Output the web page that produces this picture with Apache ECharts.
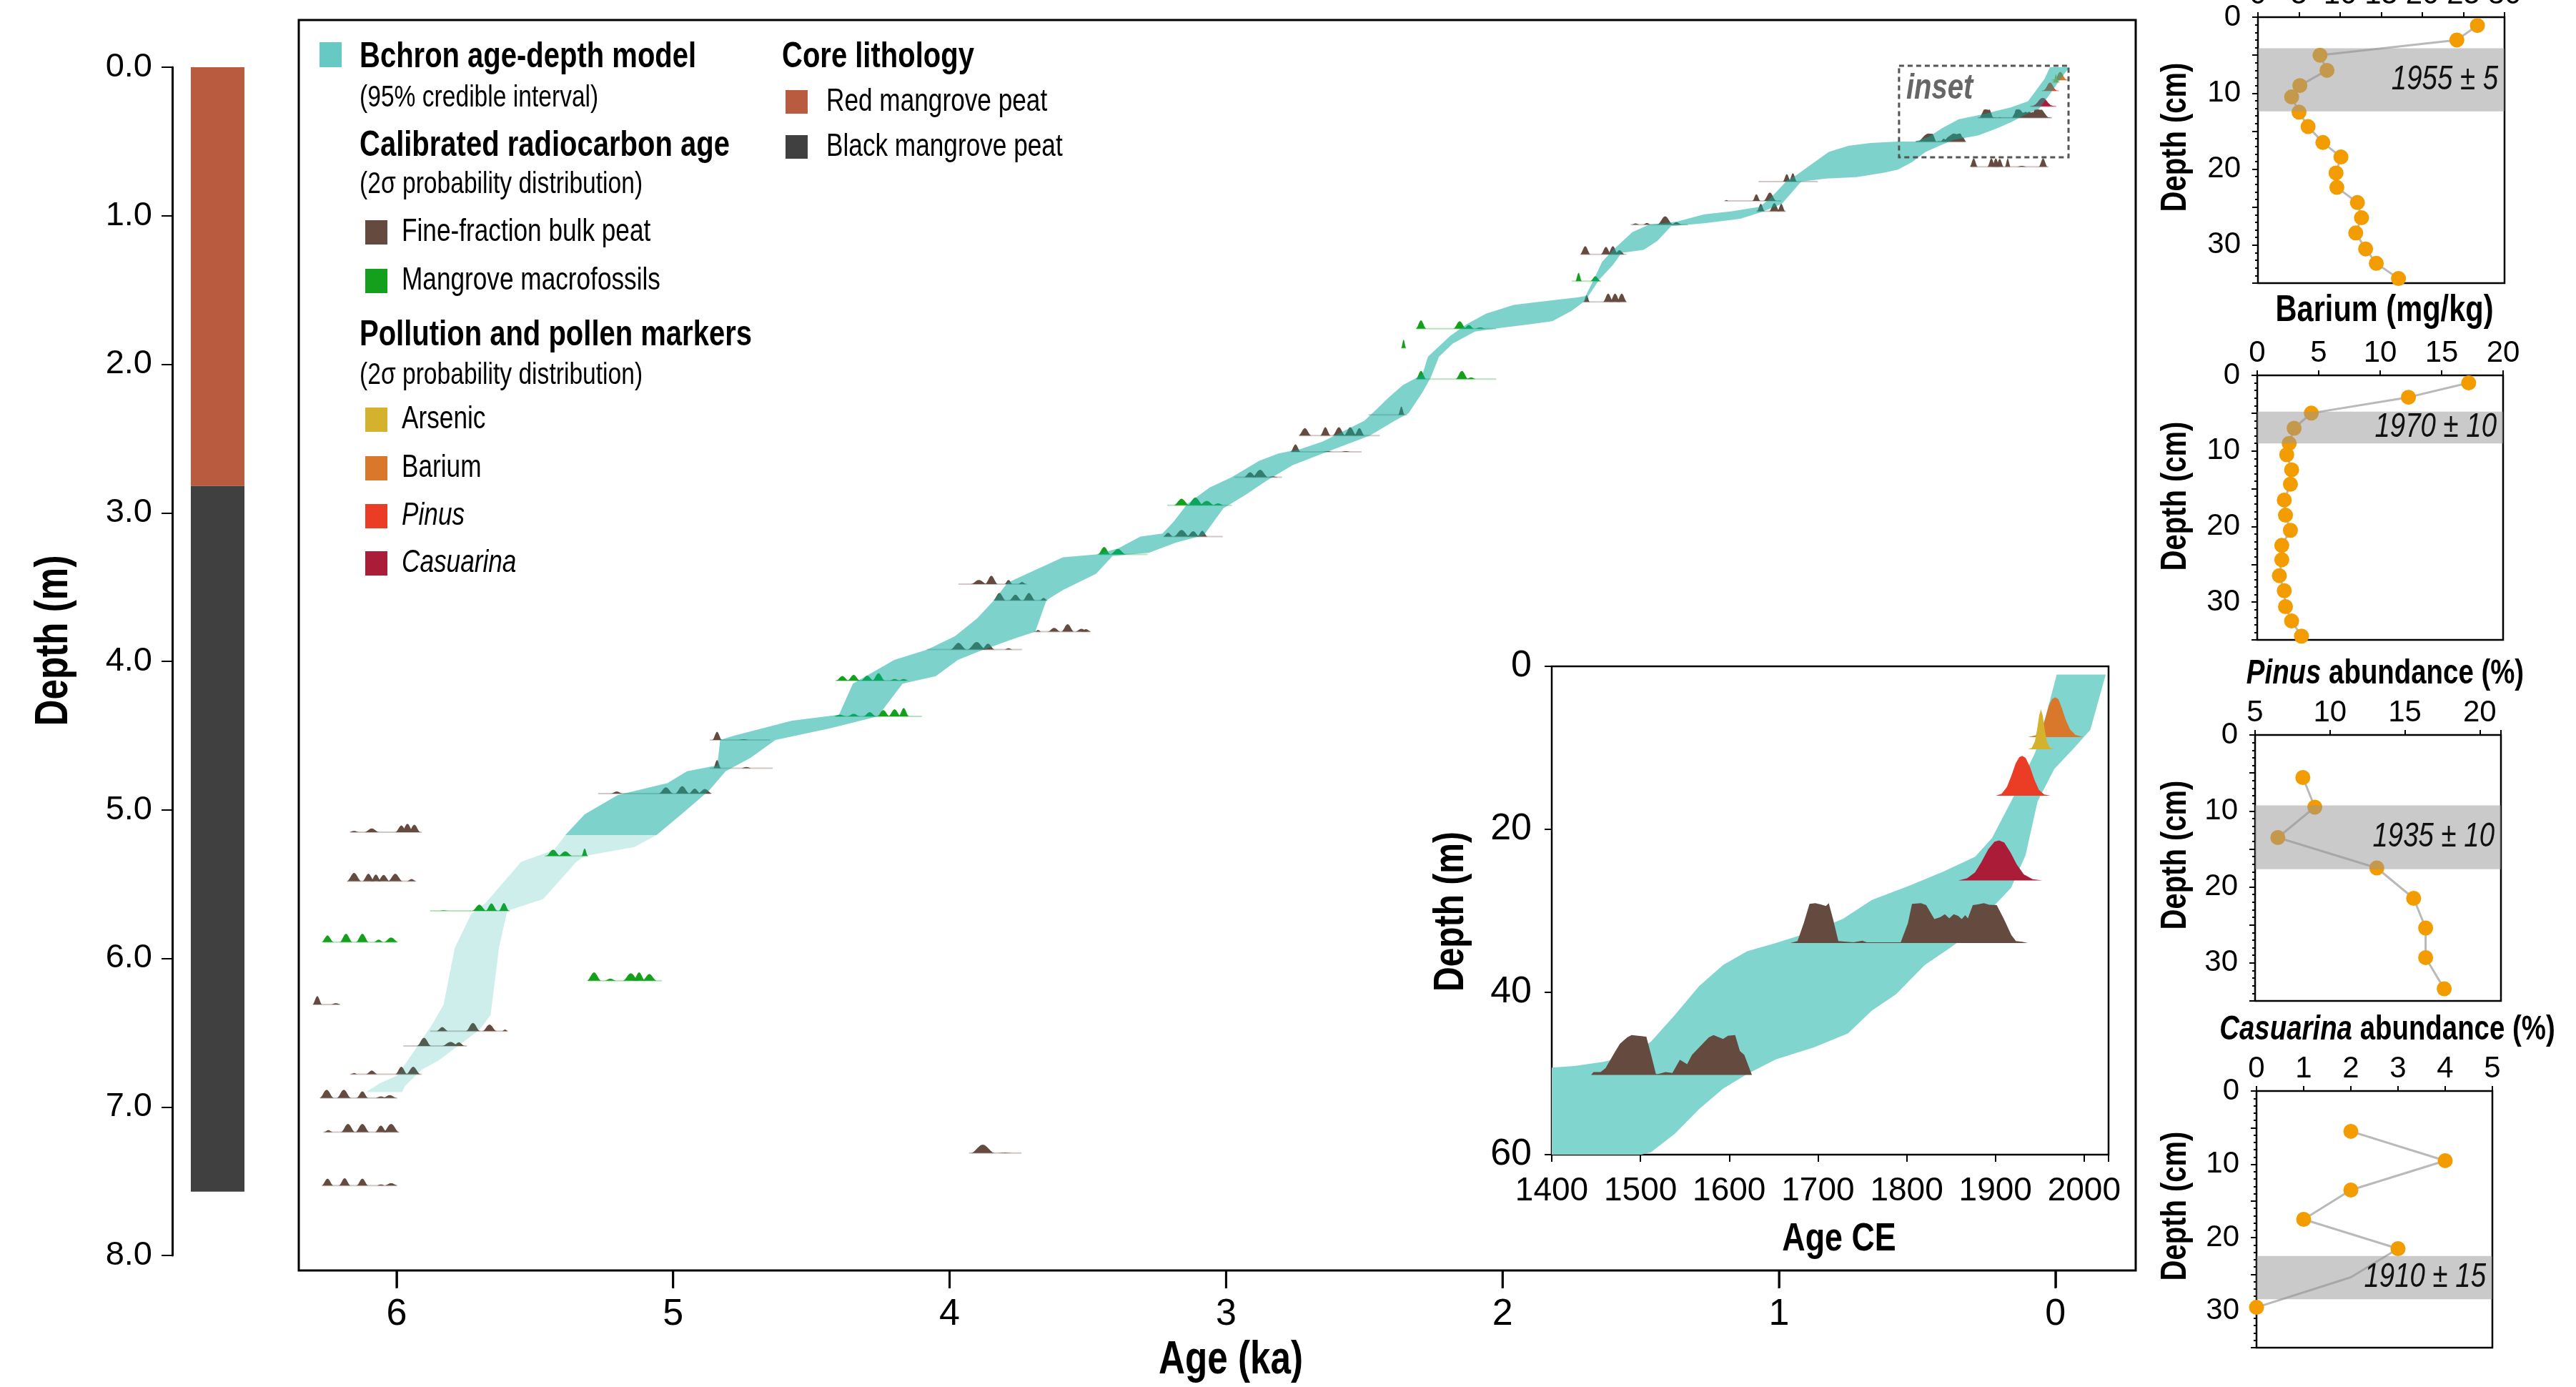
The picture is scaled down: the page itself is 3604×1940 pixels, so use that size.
<!DOCTYPE html>
<html>
<head>
<meta charset="utf-8">
<script src="https://cdn.jsdelivr.net/npm/echarts@6.0.0/dist/echarts.min.js"></script>
<style>
html,body{margin:0;padding:0;background:#ffffff;}
#chart{width:3604px;height:1940px;}
</style>
</head>
<body>
<div id="chart"></div>
<script>
// ================= DATA =================
const ageTicks = [0, 1, 2, 3, 4, 5, 6];

// Core lithology (depth m)
const lithTop = [0, 2.82];
const lithBottom = [2.82, 7.57];
const lithColor = ['#b85b3e', '#404040'];

// Bchron 95% credible band, main panel: [age ka, depth m]
const bandOldDark = [[0.02,0.00],[0.04,0.08],[0.08,0.18],[0.10,0.23],[0.16,0.27],[0.27,0.32],[0.35,0.35],[0.41,0.41],[0.46,0.47],[0.51,0.50],[0.57,0.50],[0.67,0.51],[0.75,0.53],[0.82,0.57],[0.88,0.65],[0.94,0.73],[0.97,0.76],[1.03,0.88],[1.07,0.94],[1.17,0.97],[1.27,0.99],[1.37,1.04],[1.47,1.06],[1.53,1.11],[1.60,1.23],[1.64,1.31],[1.67,1.43],[1.70,1.54],[1.73,1.55],[1.87,1.58],[1.96,1.60],[2.06,1.66],[2.13,1.73],[2.19,1.81],[2.27,1.95],[2.29,2.07],[2.36,2.14],[2.41,2.22],[2.46,2.31],[2.50,2.38],[2.65,2.52],[2.73,2.57],[2.81,2.60],[2.88,2.65],[2.98,2.76],[3.06,2.83],[3.14,2.94],[3.19,3.06],[3.23,3.14],[3.31,3.16],[3.39,3.24],[3.47,3.28],[3.59,3.30],[3.72,3.41],[3.79,3.47],[3.84,3.59],[3.90,3.71],[3.98,3.83],[4.08,3.92],[4.20,3.99],[4.35,4.15],[4.40,4.36],[4.57,4.40],[4.78,4.50],[4.83,4.53],[4.84,4.70],[4.95,4.74],[5.02,4.82],[5.20,4.90],[5.32,5.03],[5.39,5.17]];
const bandYoungDark = [[-0.05,0.00],[-0.01,0.10],[0.02,0.18],[0.06,0.28],[0.11,0.32],[0.16,0.37],[0.21,0.41],[0.28,0.46],[0.37,0.49],[0.42,0.53],[0.47,0.57],[0.52,0.64],[0.57,0.69],[0.62,0.71],[0.72,0.74],[0.83,0.75],[0.92,0.77],[0.99,0.92],[1.07,0.98],[1.14,1.02],[1.27,1.05],[1.39,1.07],[1.44,1.17],[1.49,1.23],[1.57,1.25],[1.60,1.33],[1.65,1.43],[1.70,1.57],[1.75,1.64],[1.82,1.71],[1.90,1.73],[2.03,1.76],[2.10,1.78],[2.18,1.86],[2.23,1.95],[2.26,2.09],[2.29,2.19],[2.34,2.33],[2.39,2.38],[2.48,2.48],[2.65,2.60],[2.76,2.68],[2.85,2.78],[2.93,2.88],[3.01,2.97],[3.08,3.15],[3.18,3.20],[3.28,3.27],[3.41,3.29],[3.47,3.41],[3.59,3.52],[3.65,3.59],[3.69,3.80],[3.77,3.85],[3.89,3.93],[3.97,3.99],[4.05,4.10],[4.17,4.15],[4.26,4.37],[4.43,4.45],[4.63,4.53],[4.72,4.65],[4.81,4.74],[4.87,4.87],[4.97,5.03],[5.06,5.17]];
const bandOldLight = [[5.39,5.17],[5.43,5.27],[5.55,5.35],[5.61,5.48],[5.68,5.63],[5.73,5.70],[5.79,5.93],[5.83,6.31],[5.87,6.44],[5.95,6.66],[6.00,6.79],[6.06,6.84],[6.11,6.90]];
const bandYoungLight = [[5.06,5.17],[5.14,5.25],[5.32,5.31],[5.35,5.35],[5.47,5.60],[5.60,5.68],[5.63,5.93],[5.66,6.38],[5.70,6.48],[5.85,6.69],[5.91,6.75],[5.97,6.86],[5.98,6.90]];

// Calibrated radiocarbon ages in the main panel
const calDepth = [5.15,5.48,5.68,5.31,5.89,6.15,6.31,6.49,6.59,6.78,6.94,7.17,7.53,4.53,4.72,4.89,4.37,4.13,3.92,3.80,3.59,3.48,3.28,3.16,2.95,2.76,2.59,2.48,2.34,2.10,1.89,1.76,1.58,1.44,1.26,1.06,0.97,0.90,0.77,0.67,7.31];
const calKind = ['b','b','g','g','g','g','b','b','b','b','b','b','b','b','b','b','g','g','b','b','b','b','g','b','g','b','b','b','b','g','g','g','b','g','b','b','b','b','b','b','b'];
const calRange = [[5.909,6.168],[5.931,6.179],[5.590,5.879],[5.308,5.464],[5.998,6.265],[5.041,5.308],[6.205,6.302],[5.598,5.879],[5.746,5.976],[5.909,6.168],[5.998,6.277],[5.991,6.265],[5.998,6.270],[4.649,4.867],[4.640,4.867],[4.863,5.271],[4.100,4.413],[4.158,4.413],[3.738,4.083],[3.490,3.696],[3.647,3.836],[3.721,3.968],[3.284,3.460],[3.012,3.226],[2.979,3.213],[2.798,2.971],[2.510,2.765],[2.444,2.735],[2.345,2.485],[2.023,2.312],[2.350,2.366],[2.023,2.312],[1.552,1.709],[1.643,1.750],[1.552,1.717],[1.330,1.536],[0.975,1.082],[0.992,1.198],[0.860,1.074],[0.025,0.306],[3.74,3.93]];
// peaks: [age ka, relative density, half width ka]
const calPeaks = [
 [[6.154,.15,.012],[6.090,.45,.018],[5.983,.8,.015],[5.961,1,.015],[5.936,.9,.015]],
 [[6.154,1,.018],[6.102,.9,.015],[6.075,.8,.013],[6.047,.75,.015],[6.005,.9,.018],[5.946,.25,.012]],
 [[5.830,.06,.012],[5.701,.75,.018],[5.657,.9,.015],[5.612,.95,.013]],
 [[5.434,.75,.018],[5.390,.55,.018],[5.320,.9,.008]],
 [[6.250,.8,.015],[6.183,1,.016],[6.124,1,.016],[6.065,.3,.012],[6.020,.55,.018]],
 [[5.286,1,.018],[5.227,.25,.015],[5.153,.9,.02],[5.123,1,.015],[5.086,.8,.018]],
 [[6.287,1,.012],[6.220,.15,.012]],
 [[5.835,.5,.015],[5.724,1,.018],[5.664,.8,.018],[5.608,.2,.008]],
 [[5.901,1,.018],[5.805,.5,.022],[5.775,.45,.015]],
 [[6.154,.15,.009],[6.090,.45,.015],[5.983,.9,.015],[5.940,.9,.018]],
 [[6.253,1,.018],[6.191,1,.018],[6.124,.8,.015],[6.057,.2,.015],[6.025,.35,.018]],
 [[6.247,.25,.012],[6.176,1,.018],[6.124,1,.018],[6.057,.8,.015],[6.020,1,.02]],
 [[6.250,.85,.015],[6.188,.9,.015],[6.124,.85,.015],[6.057,.15,.012],[6.020,.3,.018]],
 [[4.841,1,.012],[4.745,.1,.015]],
 [[4.841,1,.01],[4.735,.15,.015]],
 [[5.204,.25,.015],[5.026,.75,.018],[4.967,.9,.018],[4.922,.6,.015],[4.885,.55,.018]],
 [[4.397,.2,.016],[4.347,.3,.016],[4.289,.5,.016],[4.240,.75,.016],[4.199,.85,.016],[4.166,1,.013]],
 [[4.388,.55,.016],[4.347,.7,.016],[4.298,.6,.016],[4.257,.9,.016],[4.199,.2,.013],[4.166,.2,.013]],
 [[3.968,.8,.02],[3.902,.9,.023],[3.861,.7,.016],[3.787,.15,.01]],
 [[3.680,.2,.008],[3.622,.45,.016],[3.573,.9,.016],[3.523,.35,.016],[3.507,.3,.013]],
 [[3.820,.9,.016],[3.762,.7,.016],[3.713,.9,.016],[3.660,.3,.01]],
 [[3.894,.5,.02],[3.849,1,.016],[3.787,.5,.01],[3.738,.25,.01]],
 [[3.441,.9,.016],[3.391,.65,.02]],
 [[3.210,.45,.013],[3.161,.8,.02],[3.119,.65,.016],[3.086,.7,.013]],
 [[3.161,.8,.02],[3.111,.95,.02],[3.070,.55,.02],[3.029,.25,.016]],
 [[2.913,.6,.016],[2.877,.9,.02],[2.831,.1,.013]],
 [[2.749,.9,.013],[2.633,.1,.013],[2.567,.1,.013]],
 [[2.715,.9,.016],[2.641,1,.013],[2.592,1,.016],[2.551,1,.016],[2.518,.9,.013]],
 [[2.366,1,.008]],
 [[2.295,1,.013],[2.147,1,.016],[2.114,.2,.013]],
 [[2.358,1,.006]],
 [[2.295,1,.013],[2.155,.9,.016],[2.122,.45,.013],[2.081,.15,.013]],
 [[1.696,.8,.008],[1.618,1,.013],[1.593,1,.013],[1.569,1,.013]],
 [[1.725,1,.008],[1.664,.6,.013]],
 [[1.701,1,.013],[1.626,.9,.013],[1.601,1,.013],[1.577,.5,.013]],
 [[1.519,.15,.01],[1.478,.2,.01],[1.412,1,.02],[1.371,.3,.013]],
 [[1.066,.9,.01],[1.017,1,.013],[0.992,.9,.01]],
 [[1.190,.1,.005],[1.082,.8,.01],[1.033,1,.016]],
 [[0.972,.9,.01],[0.950,1,.01]],
 [[0.296,1,.01],[0.232,1,.01],[0.216,1,.01],[0.202,.95,.01],[0.173,1,.007],[0.122,.1,.013],[0.045,1,.011]],
 [[3.88,1,.03],[3.80,.05,.02]]
];

// Inset (upper 60 cm): Bchron band [year CE, depth cm]
const insetOld = [[1969.1,1.0],[1958.3,5.5],[1944.8,10.6],[1917.7,16.6],[1896.1,21.1],[1877.2,23.4],[1842.0,25.2],[1804.1,26.9],[1760.8,28.7],[1728.4,31.0],[1695.9,32.5],[1652.6,34.0],[1620.2,35.0],[1593.1,36.7],[1566.1,39.3],[1539.0,42.8],[1512.0,46.1],[1490.3,47.8],[1457.9,48.6],[1425.4,49.1],[1400,49.3],[1400,60]];
const insetYoung = [[2024.3,1.0],[2007.0,7.8],[1988.1,10.1],[1966.4,12.6],[1947.5,16.6],[1934.0,23.2],[1917.7,27.2],[1896.1,29.7],[1879.9,32.2],[1847.4,34.7],[1820.4,36.7],[1787.9,40.3],[1760.8,42.3],[1733.8,45.1],[1695.9,46.8],[1652.6,48.3],[1620.2,50.1],[1593.1,51.9],[1566.1,54.4],[1539.0,57.4],[1512.0,59.7],[1501.2,60]];
// Inset probability distributions (baseline depth cm, kind, [year CE, relative density])
const insetDepth = [8.7, 10.2, 15.9, 26.3, 34.0, 50.2];
const insetKind = ['ba', 'as', 'pi', 'ca', 'b', 'b'];
const insetShape = [
 [[1936.7,0],[1945,0.04],[1952,0.2],[1956,0.45],[1960,0.78],[1964,0.96],[1967.5,1],[1971,0.95],[1975,0.72],[1979,0.45],[1984,0.2],[1990,0.06],[1998.9,0]],
 [[1936.7,0],[1941,0.04],[1944.5,0.2],[1947,0.5],[1949.3,0.85],[1951.3,1],[1953.3,0.85],[1955.6,0.5],[1958,0.2],[1961.5,0.04],[1966.4,0]],
 [[1900.4,0],[1907,0.05],[1913,0.22],[1918,0.5],[1923,0.82],[1927,0.97],[1930.2,1],[1934,0.95],[1939,0.72],[1944,0.4],[1949,0.15],[1955,0.03],[1962.1,0]],
 [[1858.2,0],[1868,0.05],[1877,0.2],[1884,0.45],[1892,0.78],[1899,0.97],[1904.2,1],[1910,0.95],[1917,0.7],[1924,0.4],[1932,0.15],[1942,0.03],[1952.9,0]],
 [[1668.9,0],[1677,0.05],[1684,0.5],[1690.5,0.98],[1697,1],[1703,0.97],[1709,0.93],[1712.2,1],[1717,0.6],[1723,0.05],[1740,0.02],[1750,0.06],[1755,0.02],[1793.3,0.02],[1801.4,0.5],[1806,0.98],[1816,1],[1822,0.95],[1826,0.8],[1831.2,0.6],[1838,0.65],[1843,0.72],[1848,0.62],[1853,0.72],[1858,0.68],[1862,0.6],[1866,0.7],[1869,0.62],[1874.5,0.95],[1880,0.97],[1887,1],[1893,0.96],[1901.5,0.95],[1909.6,0.6],[1918,0.2],[1923.1,0.05],[1930,0.03],[1936.7,0]],
 [[1444.4,0],[1447,0.07],[1455,0.07],[1460.6,0.17],[1471.4,0.58],[1476.8,0.78],[1485,0.94],[1490,1],[1506.6,0.96],[1512,0.5],[1517.4,0.02],[1520,0.02],[1528.2,0.07],[1536,0.05],[1544.4,0.38],[1552.6,0.27],[1558,0.5],[1566.1,0.69],[1577,0.94],[1582.3,1],[1593.1,0.9],[1598.5,0.98],[1606.7,1],[1612,0.6],[1617,0.5],[1625.6,0]]
];
// Dashed "inset" frame in main panel (age ka, depth m)
const insetFrameAge = [-0.047, 0.566];
const insetFrameDepth = [-0.01, 0.607];

// Right-hand profiles (depth cm)
const asDepth = [1.1,3.0,5.0,7.0,9.0,10.5,12.5,14.4,16.5,18.4,20.5,22.4,24.4,26.4,28.4,30.5,32.4,34.4];
const asValue = [26.7,24.2,7.55,8.4,5.1,4.1,5.0,6.1,7.9,10.1,9.5,9.6,12.1,12.6,11.9,13.1,14.4,17.1];
const asBand = [4.1, 12.4];
const baDepth = [1.0,2.9,5.0,7.0,9.0,10.5,12.5,14.4,16.5,18.5,20.5,22.5,24.4,26.5,28.5,30.6,32.5,34.5];
const baValue = [17.2,12.3,4.4,3.0,2.6,2.4,2.8,2.7,2.2,2.3,2.7,2.0,2.0,1.8,2.2,2.3,2.8,3.6];
const baBand = [4.8, 9.0];
const piDepth = [5.6,9.5,13.5,17.5,21.5,25.4,29.3,33.4];
const piValue = [8.19,8.99,6.52,13.13,15.59,16.39,16.39,17.63];
const piBand = [9.26, 17.67];
const caDepth = [5.5,9.5,13.5,17.5,21.5,25.4,29.5];
const caValue = [2,4,2,1,3,2,0];
const caMarker = [1,1,1,1,1,0,1];
const caBand = [22.5, 28.4];
const bandLabels = ['1955 ± 5', '1970 ± 10', '1935 ± 10', '1910 ± 15'];

// ================= STYLE =================
const FN = "'Liberation Sans',Arial,Roboto,sans-serif";
const SX = 0.8;   // horizontal squeeze to mimic a condensed face
const COL = {b:'#644a3f', g:'#14a01d', as:'#d5b22e', ba:'#d9772b', pi:'#eb3c25', ca:'#ab1c38'};
const MAIN_H = 0.056;   // m per unit density in main panel
const INSET_H = 4.9;    // cm per unit density in inset
const DOT = '#f29c00';

function bell(api, xc, base, h, hw, H) {
  const pts = [];
  for (let k = 0; k <= 12; k++) {
    const t = -1 + k / 6;
    const y = h * (1 + Math.cos(Math.PI * t)) / 2;
    pts.push(api.coord([xc + t * hw * 1.45, base - y * H]));
  }
  return pts;
}

const gridBase = {containLabel: false, outerBoundsMode: 'none'};

function panelX(idx, min, max, opts) {
  return {
    gridIndex: idx, type: 'value', position: 'top', min, max, interval: (opts && opts.interval) || 5,
    axisLine: {show: false, onZero: false}, splitLine: {show: false},
    axisTick: {show: true, length: 7, lineStyle: {color: '#000', width: 2}},
    axisLabel: {fontSize: 42, fontFamily: FN, color: '#000', margin: 10,
      formatter: v => (Math.abs(v - Math.round(v)) < 1e-9 && (opts && opts.labelOk ? opts.labelOk(v) : true)) ? String(v) : ''}
  };
}
function panelY(idx) {
  return {
    gridIndex: idx, type: 'value', min: 0, max: 35, interval: 5, inverse: true,
    axisLine: {show: false, onZero: false}, splitLine: {show: false},
    axisTick: {show: true, length: 8, lineStyle: {color: '#000', width: 2}},
    minorTick: {show: true, splitNumber: 5, length: 4, lineStyle: {color: '#000', width: 2}},
    axisLabel: {fontSize: 42, fontFamily: FN, color: '#000', margin: 24,
      formatter: v => (v % 10 === 0 ? String(v) : '')}
  };
}
function profileSeries(idx, values, depths, hideIdx) {
  return {
    type: 'line', xAxisIndex: idx, yAxisIndex: idx, clip: false, z: 3,
    data: values.map((v, i) => {
      const item = {value: [v, depths[i]]};
      if (hideIdx && !hideIdx[i]) item.itemStyle = {opacity: 0};
      return item;
    }),
    symbol: 'circle', symbolSize: 21,
    itemStyle: {color: DOT}, lineStyle: {color: '#b9b9b9', width: 3},
    emphasis: {disabled: true}
  };
}
function bandSeries(idx, band, label, xmin) {
  return {
    type: 'custom', xAxisIndex: idx, yAxisIndex: idx, z: 6,
    data: [[xmin, band[0], band[1]]],
    renderItem(params, api) {
      const cs = params.coordSys;
      const y0 = api.coord([api.value(0), api.value(1)])[1];
      const y1 = api.coord([api.value(0), api.value(2)])[1];
      return {type: 'group', children: [
        {type: 'rect', shape: {x: cs.x, y: y0, width: cs.width, height: y1 - y0}, style: {fill: 'rgba(150,150,150,0.5)'}},
        {type: 'text', x: cs.x + cs.width - 9, y: (y0 + y1) / 2, scaleX: SX,
         style: {text: label, font: 'italic 48px ' + FN, fill: '#111', align: 'right', verticalAlign: 'middle', textAlign: 'right', textVerticalAlign: 'middle'}}
      ]};
    }
  };
}

// ================= OPTION =================
const option = {
  animation: false,
  backgroundColor: '#ffffff',
  textStyle: {fontFamily: FN, color: '#000'},
  grid: [
    Object.assign({left: 241, top: 94, width: 101, height: 1662, show: false}, gridBase),
    Object.assign({left: 418, top: 28, width: 2570, height: 1749, show: true, borderColor: '#000', borderWidth: 3, backgroundColor: 'rgba(0,0,0,0)'}, gridBase),
    Object.assign({left: 2171, top: 932, width: 779, height: 683, show: true, borderColor: '#000', borderWidth: 2.5, backgroundColor: '#fff'}, gridBase),
    Object.assign({left: 3159, top: 24, width: 345, height: 372, show: true, borderColor: '#000', borderWidth: 2.5}, gridBase),
    Object.assign({left: 3158, top: 525, width: 344, height: 370, show: true, borderColor: '#000', borderWidth: 2.5}, gridBase),
    Object.assign({left: 3155, top: 1028, width: 344, height: 372, show: true, borderColor: '#000', borderWidth: 2.5}, gridBase),
    Object.assign({left: 3157, top: 1526, width: 330, height: 359, show: true, borderColor: '#000', borderWidth: 2.5}, gridBase)
  ],
  xAxis: [
    {gridIndex: 0, type: 'value', min: 0, max: 1, show: false},
    {gridIndex: 1, type: 'value', min: -0.29, max: 6.354, inverse: true, position: 'bottom',
     axisLine: {show: false, onZero: false}, splitLine: {show: false},
     axisTick: {show: true, inside: false, length: 24, customValues: ageTicks, lineStyle: {color: '#000', width: 2.5}},
     axisLabel: {customValues: ageTicks, fontSize: 52, fontFamily: FN, color: '#000', margin: 36}},
    {gridIndex: 2, type: 'value', min: 1400, max: 2027.5, interval: 100, position: 'bottom',
     axisLine: {show: false, onZero: false}, splitLine: {show: false},
     axisTick: {show: true, length: 10, lineStyle: {color: '#000', width: 2}},
     axisLabel: {fontSize: 46, fontFamily: FN, color: '#000', margin: 28, formatter: v => (v % 100 === 0 ? String(v) : '')}},
    panelX(3, 0, 30),
    panelX(4, 0, 20),
    panelX(5, 5, 21.42, {labelOk: v => v % 5 === 0}),
    panelX(6, 0, 5, {interval: 1})
  ],
  yAxis: [
    {gridIndex: 0, type: 'value', min: 0, max: 8, interval: 1, inverse: true, position: 'left',
     axisLine: {show: true, onZero: false, lineStyle: {color: '#000', width: 3}}, splitLine: {show: false},
     axisTick: {show: true, length: 15, lineStyle: {color: '#000', width: 2}},
     axisLabel: {fontSize: 47, fontFamily: FN, color: '#000', margin: 28, formatter: v => v.toFixed(1)}},
    {gridIndex: 1, type: 'value', min: -0.3177, max: 8.101, inverse: true, show: false},
    {gridIndex: 2, type: 'value', min: 0, max: 60, interval: 20, inverse: true, position: 'left',
     axisLine: {show: false, onZero: false}, splitLine: {show: false},
     axisTick: {show: true, length: 10, lineStyle: {color: '#000', width: 2}},
     axisLabel: {fontSize: 52, fontFamily: FN, color: '#000', margin: 28}},
    panelY(3), panelY(4), panelY(5), panelY(6)
  ],
  series: [
    // lithology column
    {type: 'custom', xAxisIndex: 0, yAxisIndex: 0,
     data: lithTop.map((t, i) => [1, t, lithBottom[i]]),
     renderItem(params, api) {
       const i = params.dataIndex;
       const p0 = api.coord([0.257, lithTop[i]]);
       const p1 = api.coord([1, lithBottom[i]]);
       return {type: 'rect', shape: {x: p0[0], y: p0[1], width: p1[0] - p0[0], height: p1[1] - p0[1]}, style: {fill: lithColor[i]}};
     }},
    // calibrated ages (main)
    {type: 'custom', xAxisIndex: 1, yAxisIndex: 1, z: 2,
     data: calDepth.map((d, i) => [calRange[i][0], d]),
     renderItem(params, api) {
       const i = params.dataIndex, d = calDepth[i], col = COL[calKind[i]];
       const a = api.coord([calRange[i][0], d]), b = api.coord([calRange[i][1], d]);
       const ch = [{type: 'line', shape: {x1: a[0], y1: a[1], x2: b[0], y2: b[1]}, style: {stroke: col, opacity: 0.3, lineWidth: 2}}];
       calPeaks[i].forEach(pk => ch.push({type: 'polygon', shape: {points: bell(api, pk[0], d, pk[1], pk[2], MAIN_H)}, style: {fill: col}}));
       return {type: 'group', children: ch};
     }},
    // inset distributions re-drawn in main panel (year CE -> ka BP, cm -> m)
    {type: 'custom', xAxisIndex: 1, yAxisIndex: 1, z: 2,
     data: insetDepth.map((d, i) => [(1950 - insetShape[i][0][0]) / 1000, d / 100]),
     renderItem(params, api) {
       const i = params.dataIndex, base = insetDepth[i] / 100;
       const pts = insetShape[i].map(p => api.coord([(1950 - p[0]) / 1000, base - p[1] * MAIN_H]));
       const a = pts[0], b = pts[pts.length - 1];
       return {type: 'group', children: [
         {type: 'line', shape: {x1: a[0], y1: a[1], x2: b[0], y2: b[1]}, style: {stroke: COL[insetKind[i]], opacity: 0.3, lineWidth: 2}},
         {type: 'polygon', shape: {points: pts}, style: {fill: COL[insetKind[i]]}}
       ]};
     }},
    // Bchron band (dark), drawn over the distributions
    {type: 'custom', xAxisIndex: 1, yAxisIndex: 1, z: 3,
     data: bandOldDark,
     renderItem(params, api) {
       if (params.dataIndex !== 0) return null;
       const pts = bandOldDark.concat(bandYoungDark.slice().reverse()).map(p => api.coord(p));
       return {type: 'polygon', shape: {points: pts}, style: {fill: 'rgba(5,170,157,0.52)'}};
     }},
    // Bchron band (light, lower section)
    {type: 'custom', xAxisIndex: 1, yAxisIndex: 1, z: 3,
     data: bandOldLight,
     renderItem(params, api) {
       if (params.dataIndex !== 0) return null;
       const pts = bandOldLight.concat(bandYoungLight.slice().reverse()).map(p => api.coord(p));
       return {type: 'polygon', shape: {points: pts}, style: {fill: 'rgba(5,170,157,0.2)'}};
     }},
    // dashed inset frame
    {type: 'custom', xAxisIndex: 1, yAxisIndex: 1, z: 4,
     data: [[insetFrameAge[1], insetFrameDepth[0]]],
     renderItem(params, api) {
       const p0 = api.coord([insetFrameAge[1], insetFrameDepth[0]]);
       const p1 = api.coord([insetFrameAge[0], insetFrameDepth[1]]);
       return {type: 'group', children: [
         {type: 'rect', shape: {x: p0[0], y: p0[1], width: p1[0] - p0[0], height: p1[1] - p0[1]},
          style: {fill: 'none', stroke: '#555', lineWidth: 3, lineDash: [7, 5]}},
         {type: 'text', x: p0[0] + 10, y: p0[1] + 32, scaleX: SX,
          style: {text: 'inset', font: 'italic bold 50px ' + FN, fill: '#666', align: 'left', verticalAlign: 'middle', textAlign: 'left', textVerticalAlign: 'middle'}}
       ]};
     }},
    // inset band
    {type: 'custom', xAxisIndex: 2, yAxisIndex: 2, z: 2,
     data: insetOld,
     renderItem(params, api) {
       if (params.dataIndex !== 0) return null;
       const pts = insetOld.concat(insetYoung.slice().reverse()).map(p => api.coord(p));
       return {type: 'polygon', shape: {points: pts}, style: {fill: '#80d5cf'}};
     }},
    // inset distributions
    {type: 'custom', xAxisIndex: 2, yAxisIndex: 2, z: 3,
     data: insetDepth.map((d, i) => [insetShape[i][0][0], d]),
     renderItem(params, api) {
       const i = params.dataIndex, base = insetDepth[i];
       const pts = insetShape[i].map(p => api.coord([p[0], base - p[1] * INSET_H]));
       return {type: 'polygon', shape: {points: pts}, style: {fill: COL[insetKind[i]]}};
     }},
    // profiles
    profileSeries(3, asValue, asDepth),
    bandSeries(3, asBand, bandLabels[0], 0),
    profileSeries(4, baValue, baDepth),
    bandSeries(4, baBand, bandLabels[1], 0),
    profileSeries(5, piValue, piDepth),
    bandSeries(5, piBand, bandLabels[2], 5),
    profileSeries(6, caValue, caDepth, caMarker),
    bandSeries(6, caBand, bandLabels[3], 0)
  ],
  graphic: []
};

// ---- text & legend annotations ----
function T(text, x, y, font, align, extra) {
  return Object.assign({type: 'text', x, y, z: 100, scaleX: SX,
    style: {text, font, fill: '#000', align: align || 'left', verticalAlign: 'middle', textAlign: align || 'left', textVerticalAlign: 'middle'}}, extra || {});
}
function R(x, y, w, h, fill) {
  return {type: 'rect', z: 100, shape: {x, y, width: w, height: h}, style: {fill}};
}
function richTitle(italicPart, rest, x, y) {
  return {type: 'text', x, y, z: 100, scaleX: SX,
    style: {text: '{i|' + italicPart + '}{n|' + rest + '}', align: 'center', verticalAlign: 'middle', textAlign: 'center', textVerticalAlign: 'middle',
      rich: {i: {fontStyle: 'italic', fontWeight: 'bold', fontSize: 48, fontFamily: FN, fill: '#000'},
             n: {fontWeight: 'bold', fontSize: 48, fontFamily: FN, fill: '#000'}}}};
}
const B50 = 'bold 50px ' + FN, N42 = '42px ' + FN, N44 = '44px ' + FN;
option.graphic = [
  // axis titles
  T('Depth (m)', 76, 896, 'bold 64px ' + FN, 'center', {rotation: Math.PI / 2}),
  T('Age (ka)', 1722, 1903, 'bold 64px ' + FN, 'center'),
  T('Age CE', 2573, 1734, 'bold 56px ' + FN, 'center'),
  T('Depth (m)', 2030, 1275, 'bold 60px ' + FN, 'center', {rotation: Math.PI / 2}),
  // legend column 1
  R(447, 59, 31, 35, '#66c9c3'),
  T('Bchron age-depth model', 503, 80, B50),
  T('(95% credible interval)', 503, 137, N42),
  T('Calibrated radiocarbon age', 503, 204, B50),
  T('(2σ probability distribution)', 503, 258, N42),
  R(511, 308, 31, 34, COL.b), T('Fine-fraction bulk peat', 562, 325, N44),
  R(511, 376, 31, 34, COL.g), T('Mangrove macrofossils', 562, 393, N44),
  T('Pollution and pollen markers', 503, 469, B50),
  T('(2σ probability distribution)', 503, 525, N42),
  R(511, 570, 31, 34, COL.as), T('Arsenic', 562, 587, N44),
  R(511, 638, 31, 34, COL.ba), T('Barium', 562, 655, N44),
  R(511, 705, 31, 34, COL.pi), T('Pinus', 562, 722, 'italic 44px ' + FN),
  R(511, 771, 31, 34, COL.ca), T('Casuarina', 562, 788, 'italic 44px ' + FN),
  // legend column 2
  T('Core lithology', 1094, 80, B50),
  R(1099, 126, 31, 33, lithColor[0]), T('Red mangrove peat', 1156, 143, N44),
  R(1099, 189, 31, 33, lithColor[1]), T('Black mangrove peat', 1156, 206, N44),
  // right-hand panel titles
  T('Barium (mg/kg)', 3336, 435, 'bold 52px ' + FN, 'center'),
  richTitle('Pinus', ' abundance (%)', 3337, 943),
  richTitle('Casuarina', ' abundance (%)', 3340, 1441),
  T('Depth (cm)', 3044, 192, 'bold 50px ' + FN, 'center', {rotation: Math.PI / 2}),
  T('Depth (cm)', 3044, 694, 'bold 50px ' + FN, 'center', {rotation: Math.PI / 2}),
  T('Depth (cm)', 3044, 1196, 'bold 50px ' + FN, 'center', {rotation: Math.PI / 2}),
  T('Depth (cm)', 3044, 1687, 'bold 50px ' + FN, 'center', {rotation: Math.PI / 2})
];

const chart = echarts.init(document.getElementById('chart'), null, {renderer: 'canvas', width: 3604, height: 1940});
chart.setOption(option);

// Age-axis tick marks below the main frame, placed through the axis scale
const tickMarks = ageTicks.map(v => {
  const p = chart.convertToPixel({gridIndex: 1}, [v, 8.101]);
  return {type: 'rect', z: 100, shape: {x: p[0] - 1.5, y: p[1], width: 3, height: 25}, style: {fill: '#000'}};
});
chart.setOption({graphic: option.graphic.concat(tickMarks)});
</script>
</body>
</html>
